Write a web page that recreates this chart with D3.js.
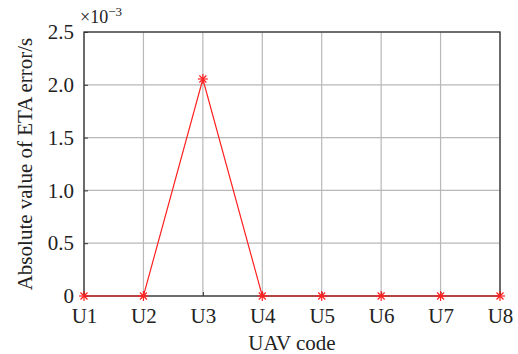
<!DOCTYPE html>
<html>
<head>
<meta charset="utf-8">
<script src="https://cdn.jsdelivr.net/npm/d3@7"></script>
<style>
  html, body { margin: 0; padding: 0; background: #fff; }
  svg { display: block; }
  text { font-family: "Liberation Serif", "Times New Roman", serif; fill: #222; }
</style>
</head>
<body>
<svg id="chart" width="518" height="354"></svg>
<script>
// UAV codes and absolute ETA error (×10^-3 s)
const categories = ["U1", "U2", "U3", "U4", "U5", "U6", "U7", "U8"];
const etaError = [0, 0, 2.055, 0, 0, 0, 0, 0];
const yTicks = [0, 0.5, 1.0, 1.5, 2.0, 2.5];
const yTickLabels = ["0", "0.5", "1.0", "1.5", "2.0", "2.5"];

const svg = d3.select("#chart");
const margin = { left: 84, right: 18, top: 32, bottom: 58 };
const W = 518, H = 354;
const iw = W - margin.left - margin.right;
const ih = H - margin.top - margin.bottom;
const fs = 21;

const x = d3.scalePoint().domain(categories).range([0, iw]);
const y = d3.scaleLinear().domain([0, 2.5]).range([ih, 0]);

const g = svg.append("g").attr("transform", `translate(${margin.left},${margin.top})`);

// grid
g.append("g").selectAll("line").data(categories).join("line")
  .attr("x1", d => x(d)).attr("x2", d => x(d)).attr("y1", 0).attr("y2", ih)
  .attr("stroke", "#b8b8b8").attr("stroke-width", 1.2);
g.append("g").selectAll("line").data(yTicks).join("line")
  .attr("x1", 0).attr("x2", iw).attr("y1", d => y(d)).attr("y2", d => y(d))
  .attr("stroke", "#b8b8b8").attr("stroke-width", 1.2);

// axes
const xAxis = d3.axisBottom(x).tickSizeInner(-4).tickSizeOuter(0).tickPadding(12);
const yAxis = d3.axisLeft(y).tickValues(yTicks).tickFormat((d, i) => yTickLabels[i])
  .tickSizeInner(-4).tickSizeOuter(0).tickPadding(10);

const gx = g.append("g").attr("transform", `translate(0,${ih})`).call(xAxis);
const gy = g.append("g").call(yAxis);
[gx, gy].forEach(a => {
  a.select(".domain").remove();
  a.selectAll(".tick line").attr("stroke", "#333");
  a.selectAll(".tick text").attr("font-size", fs).attr("fill", "#222")
    .attr("font-family", "Liberation Serif, serif");
});

// box
g.append("rect").attr("x", 0).attr("y", 0).attr("width", iw).attr("height", ih)
  .attr("fill", "none").attr("stroke", "#333").attr("stroke-width", 1.3);

// line
const line = d3.line().x((d, i) => x(categories[i])).y(d => y(d));
g.append("path").datum(etaError).attr("d", line)
  .attr("fill", "none").attr("stroke", "#ff2020").attr("stroke-width", 1.2);

// asterisk markers
const r = 5;
const mk = g.append("g").selectAll("g").data(etaError).join("g")
  .attr("transform", (d, i) => `translate(${x(categories[i])},${y(d)})`)
  .attr("stroke", "#ff2020").attr("stroke-width", 1.2);
mk.append("line").attr("x1", -r).attr("x2", r).attr("y1", 0).attr("y2", 0);
mk.append("line").attr("x1", 0).attr("x2", 0).attr("y1", -r).attr("y2", r);
mk.append("line").attr("x1", -r * 0.7).attr("x2", r * 0.7).attr("y1", -r * 0.7).attr("y2", r * 0.7);
mk.append("line").attr("x1", -r * 0.7).attr("x2", r * 0.7).attr("y1", r * 0.7).attr("y2", -r * 0.7);

// exponent label
const ex = svg.append("text").attr("x", margin.left - 4).attr("y", 23).attr("font-size", 18);
ex.append("tspan").text("×10");
ex.append("tspan").attr("font-size", 13).attr("dy", -7).text("−3");

// axis titles
svg.append("text").attr("x", margin.left + iw / 2).attr("y", 350)
  .attr("text-anchor", "middle").attr("font-size", fs).text("UAV code");
svg.append("text")
  .attr("transform", `translate(32,${margin.top + ih / 2}) rotate(-90)`)
  .attr("text-anchor", "middle").attr("font-size", fs).text("Absolute value of ETA error/s");
</script>
</body>
</html>
